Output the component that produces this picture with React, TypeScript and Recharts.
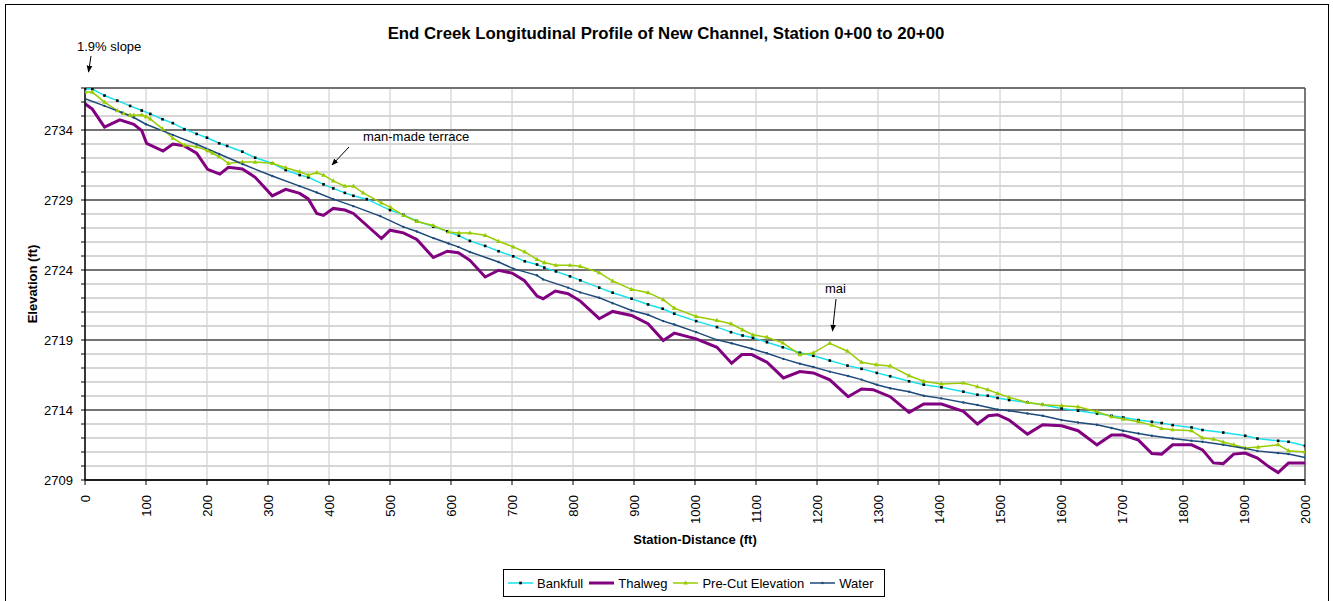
import React from "react";
import {
  LineChart,
  Line,
  XAxis,
  YAxis,
  CartesianGrid,
  ReferenceLine,
  Legend,
} from "recharts";

// survey data read from the profile (station in ft, elevation in ft)
const bankfullStation = [
  0, 12, 32, 53, 74, 93, 107, 127, 144, 163, 183, 200, 220, 233, 258, 279, 307,
  329, 352, 366, 391, 407, 426, 440, 462, 500, 522, 544, 571, 594, 613, 631, 656,
  678, 702, 721, 741, 753, 772, 795, 812, 843, 865, 896, 923, 947, 966, 1002,
  1036, 1059, 1078, 1095, 1118, 1144, 1172, 1194, 1221, 1250, 1273, 1298, 1320,
  1351, 1375, 1404, 1440, 1463, 1480, 1496, 1515, 1545, 1570, 1601, 1628, 1659,
  1683, 1702, 1727, 1749, 1765, 1783, 1814, 1832, 1866, 1902, 1922, 1956, 1973,
  2000,
];
const bankfullElev = [
  2736.92, 2736.92, 2736.46, 2736.1, 2735.72, 2735.39, 2735.15, 2734.77, 2734.49,
  2734.06, 2733.72, 2733.45, 2733.05, 2732.86, 2732.45, 2732.02, 2731.62,
  2731.14, 2730.78, 2730.62, 2730.12, 2729.83, 2729.51, 2729.3, 2729.06,
  2728.28, 2727.94, 2727.5, 2727.1, 2726.76, 2726.45, 2726.08, 2725.72, 2725.34,
  2724.98, 2724.62, 2724.39, 2724.17, 2723.9, 2723.55, 2723.26, 2722.74,
  2722.38, 2721.95, 2721.54, 2721.23, 2720.88, 2720.35, 2719.92, 2719.56,
  2719.32, 2719.16, 2718.84, 2718.48, 2718.09, 2717.87, 2717.53, 2717.17,
  2716.94, 2716.65, 2716.41, 2716.05, 2715.81, 2715.62, 2715.31, 2715.09,
  2715.02, 2714.86, 2714.71, 2714.54, 2714.38, 2714.11, 2713.95, 2713.75,
  2713.59, 2713.47, 2713.28, 2713.16, 2713.07, 2712.92, 2712.75, 2712.57,
  2712.39, 2712.16, 2711.96, 2711.8, 2711.73, 2711.44,
];

const thalwegStation = [
  0, 12, 32, 57, 80, 93, 101, 128, 144, 162, 183, 201, 221, 235, 258, 279, 307,
  329, 352, 366, 380, 391, 407, 426, 440, 486, 500, 522, 544, 571, 594, 612, 631,
  656, 678, 700, 720, 741, 751, 771, 792, 812, 843, 865, 896, 923, 948, 966,
  1002, 1036, 1060, 1077, 1093, 1118, 1145, 1172, 1194, 1221, 1251, 1273, 1292,
  1320, 1351, 1375, 1404, 1440, 1463, 1481, 1496, 1515, 1545, 1570, 1601, 1628,
  1659, 1683, 1702, 1727, 1749, 1765, 1783, 1814, 1832, 1850, 1866, 1883, 1902,
  1922, 1941, 1956, 1973, 2000,
];
const thalwegElev = [
  2735.87, 2735.49, 2734.2, 2734.72, 2734.41, 2733.96, 2733.05, 2732.5, 2733.0,
  2732.88, 2732.34, 2731.19, 2730.85, 2731.33, 2731.21, 2730.62, 2729.3,
  2729.76, 2729.47, 2729.08, 2728.04, 2727.9, 2728.4, 2728.28, 2728.04,
  2726.25, 2726.84, 2726.65, 2726.18, 2724.89, 2725.34, 2725.24, 2724.69,
  2723.5, 2723.98, 2723.78, 2723.26, 2722.14, 2721.95, 2722.5, 2722.31,
  2721.78, 2720.52, 2721.04, 2720.75, 2720.16, 2718.96, 2719.49, 2719.08,
  2718.48, 2717.34, 2717.96, 2717.96, 2717.41, 2716.29, 2716.75, 2716.65,
  2716.15, 2714.95, 2715.5, 2715.45, 2714.95, 2713.83, 2714.43, 2714.43,
  2713.9, 2713.0, 2713.59, 2713.66, 2713.28, 2712.28, 2712.95, 2712.87,
  2712.52, 2711.51, 2712.21, 2712.21, 2711.85, 2710.89, 2710.85, 2711.51,
  2711.51, 2711.15, 2710.22, 2710.17, 2710.85, 2710.92, 2710.56, 2709.94,
  2709.53, 2710.22, 2710.22,
];

const preCutStation = [
  0, 12, 32, 53, 63, 74, 80, 93, 100, 107, 127, 144, 163, 183, 201, 209, 220, 235,
  258, 279, 307, 329, 352, 366, 380, 391, 407, 426, 440, 456, 486, 501, 522, 544,
  571, 596, 613, 631, 656, 678, 702, 721, 741, 753, 772, 795, 812, 843, 865, 896,
  923, 948, 966, 1002, 1036, 1059, 1078, 1095, 1118, 1144, 1172, 1194, 1221,
  1250, 1273, 1297, 1320, 1351, 1375, 1404, 1440, 1463, 1480, 1496, 1515, 1545,
  1570, 1601, 1628, 1659, 1683, 1702, 1727, 1749, 1765, 1783, 1814, 1832, 1850,
  1866, 1883, 1902, 1923, 1956, 1973, 2000,
];
const preCutElev = [
  2736.71, 2736.71, 2735.99, 2735.39, 2735.2, 2735.06, 2735.06, 2735.08,
  2734.96, 2734.79, 2734.08, 2733.41, 2732.91, 2732.81, 2732.52, 2732.34,
  2732.09, 2731.62, 2731.71, 2731.71, 2731.62, 2731.31, 2731.02, 2730.78,
  2730.95, 2730.78, 2730.37, 2729.99, 2729.99, 2729.51, 2728.8, 2728.47,
  2727.9, 2727.47, 2727.18, 2726.72, 2726.65, 2726.65, 2726.48, 2726.05,
  2725.65, 2725.29, 2724.76, 2724.53, 2724.34, 2724.34, 2724.26, 2723.81,
  2723.21, 2722.62, 2722.38, 2721.88, 2721.28, 2720.68, 2720.4, 2720.16,
  2719.73, 2719.37, 2719.2, 2718.8, 2717.95, 2718.08, 2718.77, 2718.2, 2717.41,
  2717.24, 2717.15, 2716.45, 2716.05, 2715.86, 2715.93, 2715.67, 2715.45,
  2715.19, 2714.9, 2714.54, 2714.38, 2714.31, 2714.23, 2713.88, 2713.52,
  2713.35, 2713.16, 2712.92, 2712.68, 2712.59, 2712.52, 2712.0, 2711.92,
  2711.71, 2711.52, 2711.28, 2711.35, 2711.52, 2711.09, 2711.0,
];

const waterStation = [
  0, 32, 60, 80, 100, 144, 183, 220, 258, 307, 352, 380, 407, 440, 484, 522, 544,
  571, 596, 612, 631, 678, 702, 741, 751, 792, 812, 843, 865, 896, 923, 948, 966,
  1002, 1036, 1060, 1093, 1118, 1145, 1172, 1194, 1221, 1251, 1273, 1298, 1320,
  1351, 1375, 1404, 1440, 1463, 1496, 1515, 1545, 1570, 1601, 1628, 1659, 1683,
  1702, 1727, 1749, 1783, 1814, 1832, 1866, 1902, 1922, 1956, 1973, 2000,
];
const waterElev = [
  2736.23, 2735.72, 2735.25, 2734.89, 2734.41, 2733.65, 2732.98, 2732.29,
  2731.57, 2730.71, 2729.99, 2729.54, 2729.06, 2728.56, 2727.85, 2727.08,
  2726.75, 2726.28, 2725.89, 2725.65, 2725.29, 2724.57, 2724.1, 2723.62,
  2723.33, 2722.74, 2722.4, 2722.02, 2721.63, 2721.11, 2720.8, 2720.35,
  2720.11, 2719.56, 2719.01, 2718.77, 2718.37, 2718.05, 2717.65, 2717.31,
  2717.07, 2716.74, 2716.43, 2716.17, 2715.81, 2715.55, 2715.31, 2715.02,
  2714.83, 2714.54, 2714.36, 2714.04, 2713.95, 2713.75, 2713.59, 2713.28,
  2713.11, 2712.95, 2712.71, 2712.52, 2712.32, 2712.16, 2711.96, 2711.8,
  2711.73, 2711.51, 2711.25, 2711.08, 2710.92, 2710.85, 2710.6,
];

const xMajorTicks = [
  0, 100, 200, 300, 400, 500, 600, 700, 800, 900, 1000, 1100, 1200, 1300, 1400,
  1500, 1600, 1700, 1800, 1900, 2000,
];
const xMinorTicks = Array.from({ length: 101 }, (_, i) => i * 20);
const yLabelTicks = [2709, 2714, 2719, 2724, 2729, 2734];
const yAllTicks = Array.from({ length: 29 }, (_, i) => 2709 + i);

const BANKFULL = "#19e0ec";
const THALWEG = "#800080";
const PRECUT = "#99cc00";
const WATER = "#1c4a7a";
const FONT = "'Liberation Sans', Arial, sans-serif";

const toPoints = (st: number[], el: number[]) =>
  st.map((s, i) => ({ station: s, elev: el[i] }));

const bankfullData = toPoints(bankfullStation, bankfullElev);
const thalwegData = toPoints(thalwegStation, thalwegElev);
const preCutData = toPoints(preCutStation, preCutElev);
const waterData = toPoints(waterStation, waterElev);

const squareDot = (p: any) => (
  <rect key={`b${p.index}`} x={p.cx - 1.3} y={p.cy - 1.3} width={2.6} height={2.6} fill="#000" />
);
const triangleDot = (p: any) => (
  <path
    key={`p${p.index}`}
    d={`M${p.cx},${p.cy - 2.6} L${p.cx + 2.4},${p.cy + 1.6} L${p.cx - 2.4},${p.cy + 1.6} Z`}
    fill={PRECUT}
  />
);
const waterDot = (p: any) => (
  <circle key={`w${p.index}`} cx={p.cx} cy={p.cy} r={1.2} fill={WATER} />
);

const XTick = (props: any) => {
  const { x, y, payload } = props;
  return (
    <text
      x={x}
      y={y}
      transform={`rotate(-90, ${x}, ${y})`}
      textAnchor="end"
      dominantBaseline="central"
      fontSize={13}
      fill="#000"
    >
      {payload.value}
    </text>
  );
};

const legendItems = [
  { name: "Bankfull", color: BANKFULL, width: 1.5, mark: "square" },
  { name: "Thalweg", color: THALWEG, width: 3, mark: "none" },
  { name: "Pre-Cut Elevation", color: PRECUT, width: 1.5, mark: "tri" },
  { name: "Water", color: WATER, width: 1.5, mark: "dot" },
];

const renderLegend = () => (
  <div
    style={{
      boxSizing: "border-box",
      height: 28,
      border: "1px solid #000",
      background: "#fff",
      display: "flex",
      alignItems: "center",
      paddingLeft: 4,
      fontSize: 13,
      fontFamily: FONT,
      color: "#000",
    }}
  >
    {legendItems.map((it) => (
      <div key={it.name} style={{ display: "flex", alignItems: "center", marginRight: 6 }}>
        <svg width={25} height={10} style={{ marginRight: 4 }}>
          <line x1={0} y1={5} x2={25} y2={5} stroke={it.color} strokeWidth={it.width} />
          {it.mark === "square" && <rect x={11.2} y={3.7} width={2.6} height={2.6} fill="#000" />}
          {it.mark === "tri" && <path d="M12.5,2.4 L14.9,6.6 L10.1,6.6 Z" fill={PRECUT} />}
          {it.mark === "dot" && <circle cx={12.5} cy={5} r={1.2} fill={WATER} />}
        </svg>
        <span>{it.name}</span>
      </div>
    ))}
  </div>
);

export default function App() {
  return (
    <div
      style={{
        position: "absolute",
        left: 0,
        top: 0,
        width: 1333,
        height: 601,
        background: "#fff",
        fontFamily: FONT,
        overflow: "hidden",
      }}
    >
      <div
        style={{
          position: "absolute",
          left: 5,
          top: 4,
          width: 1322,
          height: 640,
          border: "1px solid #000",
        }}
      />
      <LineChart width={1333} height={601} margin={{ top: 88, right: 28, bottom: 0, left: 0 }}>
        <CartesianGrid horizontal={false} stroke="#c8c8c8" />
        <CartesianGrid vertical={false} stroke="#d6d6d6" strokeWidth={2} />
        <CartesianGrid vertical={false} yAxisId="major" stroke="#111" />
        <XAxis
          xAxisId="minor"
          type="number"
          dataKey="station"
          domain={[0, 2000]}
          ticks={xMinorTicks}
          interval={0}
          allowDataOverflow
          height={0}
          mirror
          tick={false}
          tickSize={4}
          axisLine={false}
          tickLine={{ stroke: "#000" }}
        />
        <XAxis
          type="number"
          dataKey="station"
          domain={[0, 2000]}
          ticks={xMajorTicks}
          interval={0}
          allowDataOverflow
          height={121}
          tick={<XTick />}
          tickSize={5}
          tickMargin={10}
          axisLine={{ stroke: "#000", strokeWidth: 1.5 }}
          tickLine={{ stroke: "#000" }}
          label={{
            value: "Station-Distance (ft)",
            position: "insideTop",
            offset: 55,
            style: { fontSize: 13, fontWeight: "bold", fill: "#000" },
          }}
        />
        <YAxis
          type="number"
          domain={[2709, 2737]}
          ticks={yAllTicks}
          interval={0}
          allowDataOverflow
          width={85}
          tickSize={4}
          tickMargin={8}
          tick={{ fontSize: 13, fill: "#000" }}
          tickFormatter={(v: number) => (yLabelTicks.includes(v) ? String(v) : "")}
          axisLine={{ stroke: "#000", strokeWidth: 1.5 }}
          tickLine={{ stroke: "#000" }}
          label={{
            content: (lp: any) => {
              const vb = lp.viewBox || { y: 88, height: 392 };
              const cy = vb.y + vb.height / 2;
              return (
                <text
                  x={32}
                  y={cy}
                  transform={`rotate(-90, 32, ${cy})`}
                  textAnchor="middle"
                  dominantBaseline="central"
                  fontSize={13}
                  fontWeight="bold"
                  fill="#000"
                >
                  Elevation (ft)
                </text>
              );
            },
          }}
        />
        <YAxis
          yAxisId="major"
          hide
          type="number"
          domain={[2709, 2737]}
          ticks={[...yLabelTicks, 2737]}
          interval={0}
          allowDataOverflow
        />
        <ReferenceLine x={2000} stroke="#555" strokeWidth={1.5} />
        <Line
          data={bankfullData}
          dataKey="elev"
          name="Bankfull"
          type="linear"
          stroke={BANKFULL}
          strokeWidth={1.5}
          dot={squareDot}
          activeDot={false}
          isAnimationActive={false}
        />
        <Line
          data={thalwegData}
          dataKey="elev"
          name="Thalweg"
          type="linear"
          stroke={THALWEG}
          strokeWidth={3}
          dot={false}
          activeDot={false}
          isAnimationActive={false}
        />
        <Line
          data={preCutData}
          dataKey="elev"
          name="Pre-Cut Elevation"
          type="linear"
          stroke={PRECUT}
          strokeWidth={1.5}
          dot={triangleDot}
          activeDot={false}
          isAnimationActive={false}
        />
        <Line
          data={waterData}
          dataKey="elev"
          name="Water"
          type="linear"
          stroke={WATER}
          strokeWidth={1.5}
          dot={waterDot}
          activeDot={false}
          isAnimationActive={false}
        />
        <Legend
          layout="horizontal"
          verticalAlign="middle"
          align="center"
          wrapperStyle={{ left: 503, top: 569, width: 382, height: 28 }}
          content={renderLegend}
        />
      </LineChart>
      <svg
        width={1333}
        height={601}
        style={{ position: "absolute", left: 0, top: 0, pointerEvents: "none" }}
      >
        <defs>
          <marker id="arr" viewBox="0 0 10 10" refX="9" refY="5" markerWidth="7" markerHeight="7" orient="auto">
            <path d="M0,1 L10,5 L0,9 Z" fill="#000" />
          </marker>
        </defs>
        <text x={666} y={39} textAnchor="middle" fontSize={16.8} fontWeight="bold" fill="#000">
          End Creek Longitudinal Profile of New Channel, Station 0+00 to 20+00
        </text>
        <text x={77} y={51} fontSize={13} fill="#000">1.9% slope</text>
        <line x1={91} y1={56} x2={88.5} y2={72} stroke="#000" strokeWidth={1} markerEnd="url(#arr)" />
        <text x={363} y={141} fontSize={13} fill="#000">man-made terrace</text>
        <line x1={349} y1={147} x2={332} y2={165} stroke="#000" strokeWidth={1} markerEnd="url(#arr)" />
        <text x={825} y={293} fontSize={13} fill="#000">mai</text>
        <line x1={836} y1={299} x2={832.5} y2={331} stroke="#000" strokeWidth={1} markerEnd="url(#arr)" />
      </svg>
    </div>
  );
}
